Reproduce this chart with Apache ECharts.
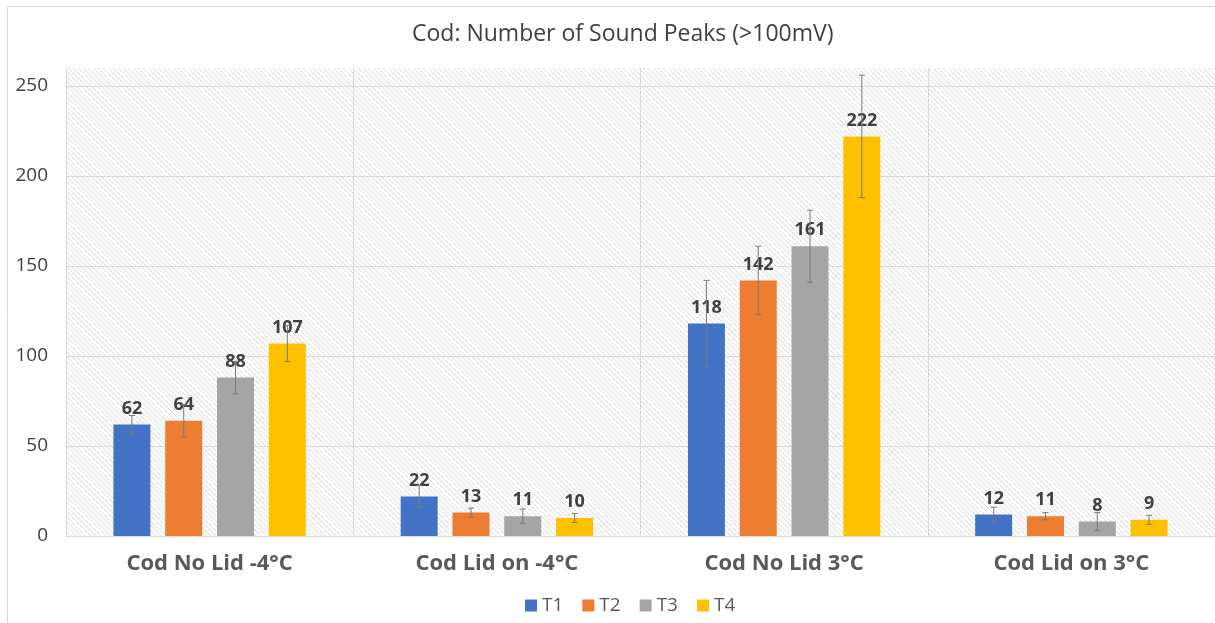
<!DOCTYPE html>
<html>
<head>
<meta charset="utf-8">
<script src="https://cdn.jsdelivr.net/npm/echarts@6/dist/echarts.min.js"></script>
<style>
  html, body { margin: 0; padding: 0; background: #fff; }
  #chart { width: 1215px; height: 623px; }
</style>
</head>
<body>
<div id="chart"></div>
<script>
// categories and series
var categories = ['Cod No Lid -4°C', 'Cod Lid on -4°C', 'Cod No Lid 3°C', 'Cod Lid on 3°C']
var seriesNames = ['T1', 'T2', 'T3', 'T4']
var valuesT1 = [62, 22, 118, 12]
var valuesT2 = [64, 13, 142, 11]
var valuesT3 = [88, 11, 161, 8]
var valuesT4 = [107, 10, 222, 9]
// error bar half-widths (+/-)
var errT1 = [5, 6, 24, 4]
var errT2 = [9, 2.5, 19, 2]
var errT3 = [9, 4, 20, 5]
var errT4 = [10, 2.5, 34, 2.5]
var yTicks = [0, 50, 100, 150, 200, 250]

var colors = ['#4472C4', '#ED7D31', '#A5A5A5', '#FFC000']
var allValues = [valuesT1, valuesT2, valuesT3, valuesT4]
var allErrs = [errT1, errT2, errT3, errT4]

var BAR_W = 37
var BAR_GAP = 0.4
var FONT = 'Open Sans, Lato, sans-serif'

// diagonal hatch for the plot background
function hatch() {
  var s = 5
  var c = document.createElement('canvas')
  c.width = s
  c.height = s
  var ctx = c.getContext('2d')
  ctx.fillStyle = '#ffffff'
  ctx.fillRect(0, 0, s, s)
  ctx.strokeStyle = '#dadada'
  ctx.lineWidth = 1
  ctx.beginPath()
  ctx.moveTo(-1, -1); ctx.lineTo(s + 1, s + 1)
  ctx.moveTo(-1, s - 1); ctx.lineTo(1, s + 1)
  ctx.moveTo(s - 1, -1); ctx.lineTo(s + 1, 1)
  ctx.stroke()
  return c
}

var chart = echarts.init(document.getElementById('chart'))

var barSeries = seriesNames.map(function (name, i) {
  return {
    type: 'bar',
    name: name,
    data: allValues[i],
    barWidth: BAR_W,
    barGap: (BAR_GAP * 100) + '%',
    itemStyle: { color: colors[i] },
    label: {
      show: true,
      position: 'top',
      distance: 7,
      color: '#404040',
      fontWeight: 'bold',
      fontSize: 18,
      fontFamily: FONT
    },
    z: 2
  }
})

var errSeries = seriesNames.map(function (name, i) {
  var data = allValues[i].map(function (v, k) {
    return [k, v - allErrs[i][k], v + allErrs[i][k]]
  })
  return {
    type: 'custom',
    name: name + ' err',
    data: data,
    z: 3,
    silent: true,
    encode: { x: 0, y: [1, 2] },
    renderItem: function (params, api) {
      var step = BAR_W * (1 + BAR_GAP)
      var off = (i - 1.5) * step
      var lo = api.coord([api.value(0), api.value(1)])
      var hi = api.coord([api.value(0), api.value(2)])
      var x = lo[0] + off
      var cap = 3
      var st = { stroke: '#7a7a7a', lineWidth: 1 }
      return {
        type: 'group',
        children: [
          { type: 'line', shape: { x1: x, y1: lo[1], x2: x, y2: hi[1] }, style: st },
          { type: 'line', shape: { x1: x - cap, y1: lo[1], x2: x + cap, y2: lo[1] }, style: st },
          { type: 'line', shape: { x1: x - cap, y1: hi[1], x2: x + cap, y2: hi[1] }, style: st }
        ]
      }
    }
  }
})

chart.setOption({
  backgroundColor: '#fff',
  animation: false,
  textStyle: { fontFamily: FONT },
  title: {
    text: 'Cod: Number of Sound Peaks (>100mV)',
    left: 407,
    top: 18,
    textStyle: { color: '#404040', fontSize: 23, fontWeight: 'normal', fontFamily: FONT }
  },
  legend: {
    data: seriesNames,
    bottom: 3,
    left: 520,
    icon: 'rect',
    itemWidth: 12,
    itemHeight: 12,
    itemGap: 19,
    textStyle: { color: '#595959', fontSize: 19, fontFamily: FONT }
  },
  graphic: [{
    type: 'rect',
    silent: true,
    shape: { x: 7.5, y: 6.5, width: 1400, height: 800 },
    style: { fill: 'none', stroke: '#d9d9d9', lineWidth: 1 }
  }],
  grid: {
    left: 66,
    right: -6,
    top: 68,
    bottom: 87,
    show: true,
    borderWidth: 0,
    backgroundColor: { image: hatch(), repeat: 'repeat' }
  },
  xAxis: {
    type: 'category',
    data: categories,
    axisLine: { lineStyle: { color: '#d9d9d9' } },
    axisTick: { show: false },
    splitLine: { show: true, lineStyle: { color: '#d9d9d9' } },
    axisLabel: {
      interval: 0,
      margin: 17,
      color: '#595959',
      fontWeight: 'bold',
      fontSize: 22,
      fontFamily: FONT
    }
  },
  yAxis: {
    type: 'value',
    min: 0,
    max: 260,
    interval: 50,
    axisLine: { show: false },
    axisTick: { show: false },
    splitLine: { showMaxLine: false, lineStyle: { color: '#d9d9d9' } },
    axisLabel: {
      margin: 18,
      color: '#404040',
      fontSize: 19,
      fontFamily: FONT,
      showMaxLabel: false,
      formatter: function (v) { return yTicks.indexOf(v) >= 0 ? v : '' }
    }
  },
  series: barSeries.concat(errSeries)
})
</script>
</body>
</html>
